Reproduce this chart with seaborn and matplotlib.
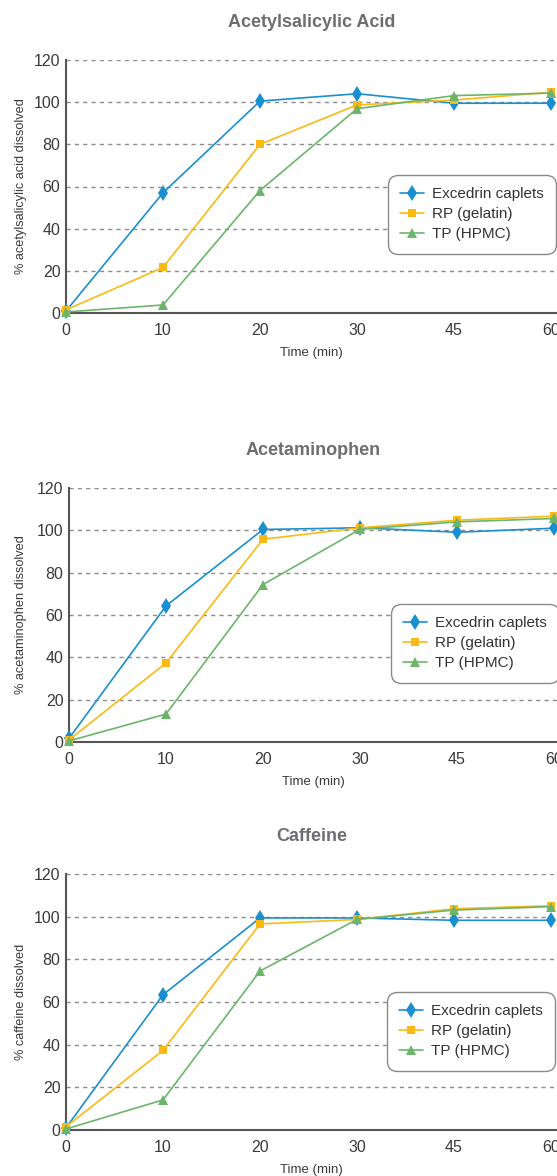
import matplotlib
matplotlib.use("Agg")
import matplotlib.pyplot as plt
import seaborn as sns
import numpy as np
import pandas as pd

# Datos (% disuelto en cada tiempo)
times = ["0", "10", "20", "30", "45", "60"]
products = ["Excedrin caplets", "RP (gelatin)", "TP (HPMC)"]

asa_excedrin = [1.0, 57.0, 100.5, 104.0, 99.5, 99.5]
asa_rp = [1.5, 21.6, 80.0, 98.7, 101.0, 104.7]
asa_tp = [0.5, 3.8, 58.1, 96.9, 103.1, 104.3]

apap_excedrin = [1.7, 64.3, 100.4, 101.2, 99.1, 101.0]
apap_rp = [1.0, 37.3, 95.8, 101.2, 104.8, 106.7]
apap_tp = [0.5, 13.2, 74.4, 100.5, 104.0, 105.6]

caf_excedrin = [1.0, 63.4, 99.4, 99.4, 98.3, 98.3]
caf_rp = [1.5, 37.3, 96.6, 98.7, 103.7, 105.1]
caf_tp = [0.5, 14.1, 74.5, 98.7, 103.1, 104.7]

panels = [
    ("Acetylsalicylic Acid", "% acetylsalicylic acid dissolved", [asa_excedrin, asa_rp, asa_tp]),
    ("Acetaminophen", "% acetaminophen dissolved", [apap_excedrin, apap_rp, apap_tp]),
    ("Caffeine", "% caffeine dissolved", [caf_excedrin, caf_rp, caf_tp]),
]

colores = {"Excedrin caplets": "#1a8fd0", "RP (gelatin)": "#fdb913", "TP (HPMC)": "#6cb56b"}
marcadores = {"Excedrin caplets": "d", "RP (gelatin)": "s", "TP (HPMC)": "^"}

sns.set_style("white")
plt.rcParams["font.family"] = ["Liberation Sans", "DejaVu Sans"]

W, H = 557, 1176
fig = plt.figure(figsize=(W / 100, H / 100), dpi=100)

# posiciones de los ejes en pixeles: (izquierda, arriba, abajo, izquierda de la leyenda)
cajas = [(66, 60, 313, 388), (69, 488, 742, 391), (66, 874, 1130, 387)]

for (titulo, ylab, series), (x0, top, bot, lx) in zip(panels, cajas):
    ax = fig.add_axes([x0 / W, 1 - bot / H, (W - x0) / W, (bot - top) / H])

    filas = []
    for prod, vals in zip(products, series):
        for i, v in enumerate(vals):
            filas.append({"pos": i, "pct": v, "product": prod})
    df = pd.DataFrame(filas)

    sns.lineplot(data=df, x="pos", y="pct", hue="product", style="product",
                 hue_order=products, style_order=products,
                 palette=colores, markers=marcadores, dashes=False,
                 linewidth=1.2, markersize=7, mew=0, clip_on=False, ax=ax)
    for ln in ax.lines:
        if ln.get_marker() == "d":
            ln.set_markersize(8)
        elif ln.get_marker() == "s":
            ln.set_markersize(6)

    unidad = 97.0
    ax.set_xlim(0, (W - x0) / unidad)
    ax.set_ylim(0, 120)
    ax.set_xticks(range(len(times)))
    ax.set_xticklabels(times)
    ax.set_yticks(np.arange(0, 121, 20))
    ax.tick_params(length=0, labelsize=11.5, labelcolor="#3a3a3a")
    ax.tick_params(axis="x", pad=7)
    ax.tick_params(axis="y", pad=4)

    ax.yaxis.grid(True, linestyle=(0, (3, 3)), color="#8c8c8c", linewidth=1)
    ax.xaxis.grid(False)
    ax.set_axisbelow(True)
    for s in ["top", "right"]:
        ax.spines[s].set_visible(False)
    for s in ["left", "bottom"]:
        ax.spines[s].set_color("#555555")
        ax.spines[s].set_linewidth(1.5)
        ax.spines[s].set_zorder(1.5)

    ax.set_xlabel("Time (min)", fontsize=9.5, color="#3a3a3a")
    ax.xaxis.set_label_coords(0.5, -34 / (bot - top))
    ax.set_ylabel(ylab, fontsize=9.2, color="#3a3a3a")
    ax.yaxis.set_label_coords(-(x0 - 27) / (W - x0), 0.5)

    ax.set_title(titulo, fontsize=13, fontweight="bold", color="#6d6e71", pad=24)

    leg = ax.legend(loc="upper left", bbox_to_anchor=((lx - x0) / (W - x0), 138 / (bot - top)),
                    borderaxespad=0, fontsize=11, frameon=True, fancybox=True,
                    handlelength=1.55, handletextpad=0.55, labelspacing=0.4,
                    borderpad=0.8, edgecolor="#8a8a8a", framealpha=1)
    leg.get_frame().set_linewidth(1.0)
    leg.get_frame().set_boxstyle("round", pad=0.0, rounding_size=0.65)
    for t in leg.get_texts():
        t.set_color("#333333")

fig.savefig("out.png", dpi=100)
